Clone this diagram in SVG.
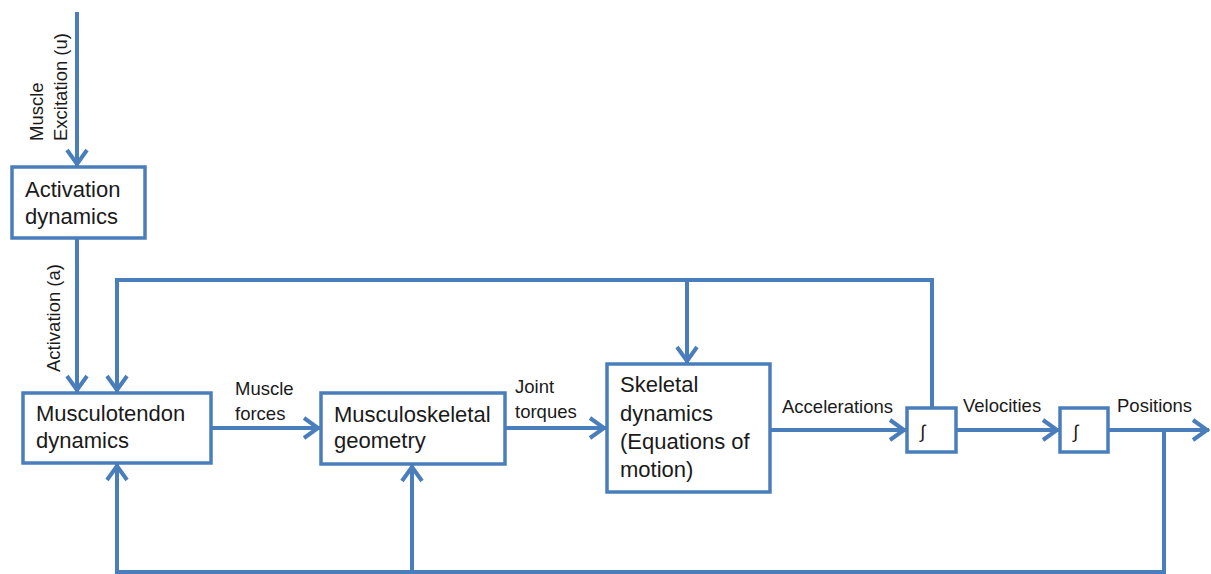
<svg xmlns="http://www.w3.org/2000/svg" width="1211" height="574" viewBox="0 0 1211 574">
<style>
.box{fill:#fff;stroke:#4A7EBB;stroke-width:3.5}
.ln{fill:none;stroke:#4A7EBB;stroke-width:4}
.t{font-family:"Liberation Sans",Arial,sans-serif;fill:#1a1a1a}
.big{font-size:22px}
.sm{font-size:18.5px}
</style>
<defs>
<marker id="ah" viewBox="-20 -13 24 26" markerWidth="24" markerHeight="26" refX="0" refY="0" orient="auto" markerUnits="userSpaceOnUse">
<path d="M-16,-10 L-2,0 L-16,10" fill="none" stroke="#4A7EBB" stroke-width="4"/>
</marker>
</defs>
<rect width="1211" height="574" fill="#fff"/>
<g id="connectors">
<path class="ln" d="M77,12 V166" marker-end="url(#ah)"/>
<path class="ln" d="M77,238 V392" marker-end="url(#ah)"/>
<path class="ln" d="M932,408 V280 H117 V392" marker-end="url(#ah)"/>
<path class="ln" d="M687,280 V363" marker-end="url(#ah)"/>
<path class="ln" d="M211,428 H320" marker-end="url(#ah)"/>
<path class="ln" d="M505,428 H606" marker-end="url(#ah)"/>
<path class="ln" d="M770,430 H906" marker-end="url(#ah)"/>
<path class="ln" d="M956,430 H1059" marker-end="url(#ah)"/>
<path class="ln" d="M1108,430 H1209" marker-end="url(#ah)"/>
<path class="ln" d="M1164,430 V572 H117 V464" marker-end="url(#ah)"/>
<path class="ln" d="M412,572 V465" marker-end="url(#ah)"/>
</g>
<g id="labels">
<text class="t sm" transform="translate(43,141) rotate(-90)">Muscle</text>
<text class="t sm" transform="translate(67,141) rotate(-90)">Excitation (u)</text>
<text class="t sm" transform="translate(60,372) rotate(-90)">Activation (a)</text>
<text class="t sm" x="235" y="395">Muscle</text>
<text class="t sm" x="235" y="420">forces</text>
<text class="t sm" x="515" y="393">Joint</text>
<text class="t sm" x="515" y="418">torques</text>
<text class="t sm" x="782" y="413">Accelerations</text>
<text class="t sm" x="963" y="412">Velocities</text>
<text class="t sm" x="1117" y="412">Positions</text>
</g>
<g id="activation">
<rect class="box" x="12" y="167" width="133" height="71"/>
<text class="t big" x="25" y="197">Activation</text>
<text class="t big" x="25" y="224">dynamics</text>
</g>
<g id="musculotendon">
<rect class="box" x="23" y="393" width="188" height="70"/>
<text class="t big" x="36" y="421">Musculotendon</text>
<text class="t big" x="36" y="448">dynamics</text>
</g>
<g id="musculoskeletal">
<rect class="box" x="321" y="393" width="184" height="71"/>
<text class="t big" x="334" y="422">Musculoskeletal</text>
<text class="t big" x="334" y="448">geometry</text>
</g>
<g id="skeletal">
<rect class="box" x="607" y="364" width="163" height="128"/>
<text class="t big" x="620" y="392">Skeletal</text>
<text class="t big" x="620" y="421">dynamics</text>
<text class="t big" x="620" y="449">(Equations of</text>
<text class="t big" x="620" y="477">motion)</text>
</g>
<g id="integrator1">
<rect class="box" x="907" y="408" width="49" height="44"/>
<text class="t sm" x="920" y="438">∫</text>
</g>
<g id="integrator2">
<rect class="box" x="1060" y="408" width="48" height="44"/>
<text class="t sm" x="1073" y="438">∫</text>
</g>
</svg>
